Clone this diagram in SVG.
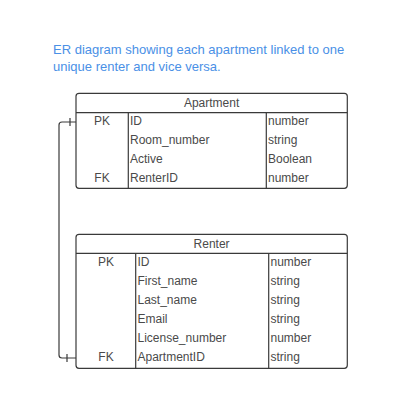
<svg xmlns="http://www.w3.org/2000/svg" width="403" height="407" viewBox="0 0 403 407">
<style>
.box{fill:#ffffff;stroke:#3a3a3a;stroke-width:1.2}
.ln{stroke:#3a3a3a;stroke-width:1.2;fill:none}
.t{font-family:"Liberation Sans",Arial,sans-serif;font-size:12px;fill:#4a4a4a}
.c{text-anchor:middle}
.title{font-family:"Liberation Sans",Arial,sans-serif;font-size:13px;fill:#4a90e6}
</style>
<rect width="403" height="407" fill="#ffffff"/>
<g id="title">
<text class="title" x="53" y="54">ER diagram showing each apartment linked to one</text>
<text class="title" x="53" y="71">unique renter and vice versa.</text>
</g>
<g id="connectors">
<path class="ln" d="M76 122 H62 Q59 122 59 125 V355 Q59 358 62 358 H76"/>
<line class="ln" x1="70" y1="118" x2="70" y2="126"/>
<line class="ln" x1="67" y1="354" x2="67" y2="362"/>
</g>
<g id="apartment">
<rect class="box" x="76" y="93.3" width="271.3" height="95" rx="3"/>
<line class="ln" x1="76" y1="112.7" x2="347.3" y2="112.7"/>
<line class="ln" x1="128.3" y1="112.7" x2="128.3" y2="188.3"/>
<line class="ln" x1="266.3" y1="112.7" x2="266.3" y2="188.3"/>
<text class="t c" x="211.6" y="107">Apartment</text>
<text class="t c" x="102" y="125">PK</text>
<text class="t" x="130" y="125">ID</text>
<text class="t" x="268" y="125">number</text>
<text class="t" x="130" y="144">Room_number</text>
<text class="t" x="268" y="144">string</text>
<text class="t" x="130" y="163">Active</text>
<text class="t" x="268" y="163">Boolean</text>
<text class="t c" x="102" y="182">FK</text>
<text class="t" x="130" y="182">RenterID</text>
<text class="t" x="268" y="182">number</text>
</g>
<g id="renter">
<rect class="box" x="76" y="234.3" width="271.3" height="134" rx="3"/>
<line class="ln" x1="76" y1="253.3" x2="347.3" y2="253.3"/>
<line class="ln" x1="135.7" y1="253.3" x2="135.7" y2="368.3"/>
<line class="ln" x1="268.7" y1="253.3" x2="268.7" y2="368.3"/>
<text class="t c" x="211.6" y="247.5">Renter</text>
<text class="t c" x="106" y="266">PK</text>
<text class="t" x="137.5" y="266">ID</text>
<text class="t" x="270.5" y="266">number</text>
<text class="t" x="137.5" y="285">First_name</text>
<text class="t" x="270.5" y="285">string</text>
<text class="t" x="137.5" y="304">Last_name</text>
<text class="t" x="270.5" y="304">string</text>
<text class="t" x="137.5" y="323">Email</text>
<text class="t" x="270.5" y="323">string</text>
<text class="t" x="137.5" y="342">License_number</text>
<text class="t" x="270.5" y="342">number</text>
<text class="t c" x="106" y="361">FK</text>
<text class="t" x="137.5" y="361">ApartmentID</text>
<text class="t" x="270.5" y="361">string</text>
</g>
</svg>
